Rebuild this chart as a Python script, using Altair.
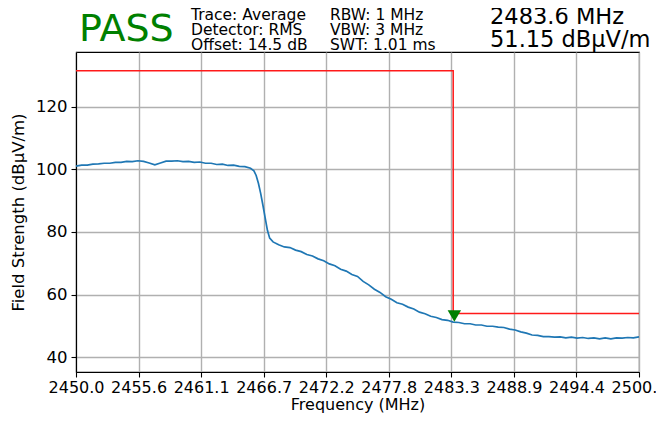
import altair as alt
import pandas as pd

# ---- data ----
freq = [2450.0, 2450.5, 2451.0, 2451.5, 2452.0, 2452.5, 2453.0, 2453.5, 2454.0, 2454.5,
        2455.0, 2455.5, 2456.0, 2456.5, 2457.0, 2457.5, 2458.0, 2458.5, 2459.0, 2459.5,
        2460.0, 2460.5, 2461.0, 2461.5, 2462.0, 2462.5, 2463.0, 2463.5, 2464.0, 2464.5,
        2465.0, 2465.5, 2465.8, 2466.0, 2466.2, 2466.4, 2466.6, 2466.8, 2467.0, 2467.2,
        2467.5, 2468.0, 2468.5, 2469.0, 2469.5, 2470.0, 2470.5, 2471.0, 2471.5, 2472.0,
        2472.5, 2473.0, 2473.5, 2474.0, 2474.5, 2475.0, 2475.5, 2476.0, 2476.5, 2477.0,
        2477.5, 2478.0, 2478.5, 2479.0, 2479.5, 2480.0, 2480.5, 2481.0, 2481.5, 2482.0,
        2482.5, 2483.0, 2483.5, 2484.0, 2484.5, 2485.0, 2485.5, 2486.0, 2486.5, 2487.0,
        2487.5, 2488.0, 2488.5, 2489.0, 2489.5, 2490.0, 2490.5, 2491.0, 2491.5, 2492.0,
        2492.5, 2493.0, 2493.5, 2494.0, 2494.5, 2495.0, 2495.5, 2496.0, 2496.5, 2497.0,
        2497.5, 2498.0, 2498.5, 2499.0, 2499.5, 2500.0]
level = [101.0, 101.3, 101.3, 101.6, 101.7, 101.9, 101.9, 102.2, 102.2, 102.5,
         102.4, 102.7, 102.5, 102.0, 101.4, 102.0, 102.6, 102.6, 102.7, 102.4,
         102.5, 102.2, 102.3, 101.9, 101.9, 101.5, 101.6, 101.2, 101.3, 100.9,
         100.8, 100.3, 99.5, 98.0, 95.5, 92.3, 88.5, 84.5, 80.5, 78.0,
         76.8, 75.9, 75.2, 75.0, 74.2, 73.7, 72.8, 72.3, 71.4, 70.8,
         69.8, 69.2, 68.1, 67.5, 66.4, 65.8, 64.2, 63.1, 61.7, 60.7,
         59.3, 58.5, 57.4, 56.9, 56.0, 55.4, 54.4, 53.9, 53.1, 52.7,
         52.0, 51.8, 51.2, 51.1, 50.7, 50.7, 50.3, 50.3, 49.9, 49.9,
         49.6, 49.5, 49.0, 48.7, 48.1, 47.7, 47.1, 47.0, 46.6, 46.6,
         46.4, 46.5, 46.2, 46.4, 46.1, 46.3, 46.0, 46.2, 45.9, 46.2,
         45.9, 46.2, 46.1, 46.3, 46.2, 46.5]

limit_freq = [2450.0, 2483.5, 2483.5, 2500.0]
limit_level = [131.4, 131.4, 54.0, 54.0]

marker_freq = [2483.6]
marker_level = [53.15]

x_ticks = [2450.0, 2455.5556, 2461.1111, 2466.6667, 2472.2222,
           2477.7778, 2483.3333, 2488.8889, 2494.4444, 2500.0]
y_ticks = [40, 60, 80, 100, 120]
x_domain = [2450.0, 2500.0]
y_domain = [35.3, 137.4]

status_text = ["PASS"]
info_col1 = ["Trace: Average\nDetector: RMS\nOffset: 14.5 dB"]
info_col2 = ["RBW: 1 MHz\nVBW: 3 MHz\nSWT: 1.01 ms"]
marker_text = ["2483.6 MHz\n51.15 dBµV/m"]

FONT = "DejaVu Sans"

trace_df = pd.DataFrame({"f": freq, "v": level})
limit_df = pd.DataFrame({"f": limit_freq, "v": limit_level, "i": list(range(len(limit_freq)))})
marker_df = pd.DataFrame({"f": marker_freq, "v": marker_level})

xs = alt.Scale(domain=x_domain, nice=False, zero=False)
ys = alt.Scale(domain=y_domain, nice=False, zero=False)

x_axis = alt.Axis(values=x_ticks, format=".1f", title="Frequency (MHz)", labelOverlap=False,
                  labelFlush=False)
y_axis = alt.Axis(values=y_ticks, format="d", title="Field Strength (dBµV/m)")

trace = alt.Chart(trace_df).mark_line(color="#1f77b4", strokeWidth=1.7).encode(
    x=alt.X("f:Q", scale=xs, axis=x_axis),
    y=alt.Y("v:Q", scale=ys, axis=y_axis),
)

limit = alt.Chart(limit_df).mark_line(color="#ff1a1a", strokeWidth=1.5).encode(
    x=alt.X("f:Q", scale=xs),
    y=alt.Y("v:Q", scale=ys),
    order="i:Q",
)

marker = alt.Chart(marker_df).mark_point(shape="triangle-down", filled=True, color="green",
                                         size=180, opacity=1).encode(
    x=alt.X("f:Q", scale=xs),
    y=alt.Y("v:Q", scale=ys),
)


def label(text, x, y, size, color="black", line_height=None):
    kw = dict(align="left", baseline="alphabetic", font=FONT, fontSize=size, color=color,
              lineBreak="\n")
    if line_height is not None:
        kw["lineHeight"] = line_height
    return alt.Chart(pd.DataFrame({"t": text})).mark_text(**kw).encode(
        x=alt.value(x), y=alt.value(y), text="t:N")


t_pass = label(status_text, 3, -11, 38, color="green")
t_col1 = label(info_col1, 115, -32.5, 15.5, line_height=15.2)
t_col2 = label(info_col2, 254, -32.5, 15.5, line_height=15.2)
t_mark = label(marker_text, 414, -28, 22.5, line_height=22.5)

chart = alt.layer(trace, limit, marker, t_pass, t_col1, t_col2, t_mark).properties(
    width=563, height=320,
    autosize=alt.AutoSizeParams(type="none"),
    padding={"left": 68, "top": 44, "right": 17, "bottom": 43},
).configure_view(stroke="black", strokeWidth=1.1).configure_axis(
    labelFont=FONT, titleFont=FONT, labelFontSize=16.5, titleFontSize=16.5,
    labelColor="black", titleColor="black", titleFontWeight="normal",
    tickColor="black", tickSize=5, tickWidth=1.1, domainColor="black", domainWidth=1.1,
    grid=True, gridColor="#b0b0b0", gridWidth=1.4,
).configure_axisX(labelPadding=2, titlePadding=1, labelFontSize=16,
                  titleFontSize=16).configure_axisY(labelPadding=4, titlePadding=9)

chart.save("out.html", embed_options={"renderer": "svg", "actions": False})
